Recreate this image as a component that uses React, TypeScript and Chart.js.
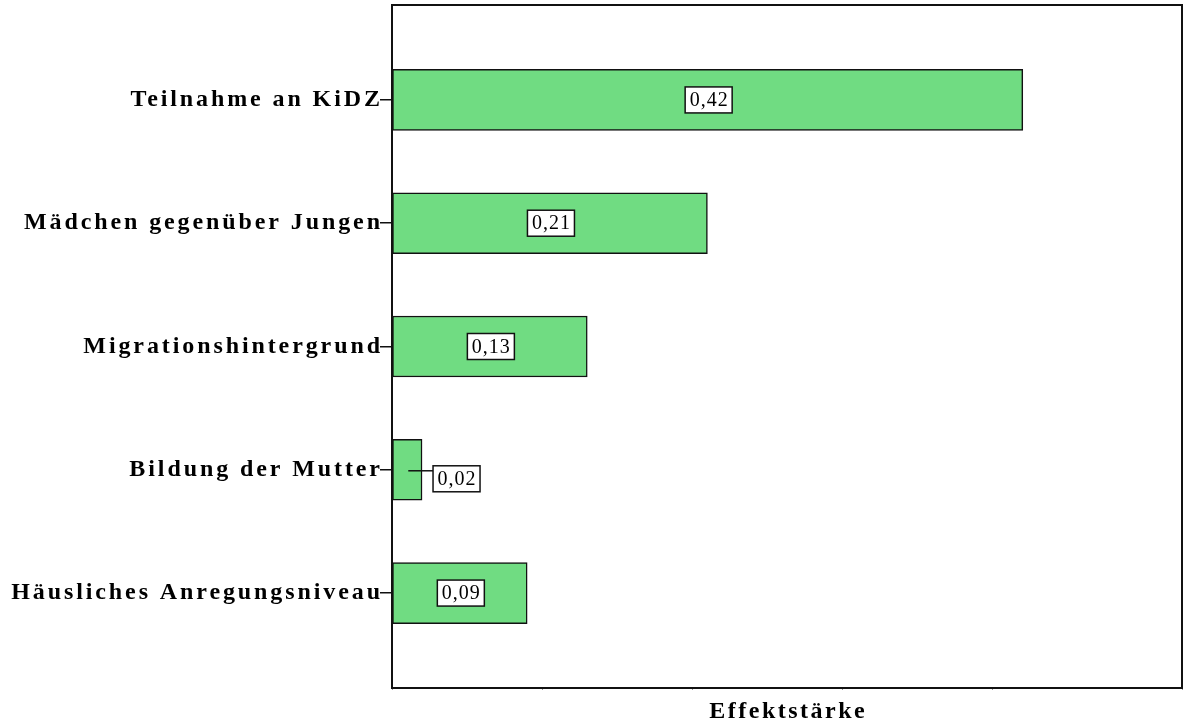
import React, { useEffect, useRef } from "react";
import { Chart, registerables } from "chart.js";

Chart.register(...registerables);

const categories = [
  "Teilnahme an KiDZ",
  "Mädchen gegenüber Jungen",
  "Migrationshintergrund",
  "Bildung der Mutter",
  "Häusliches Anregungsniveau",
];
const effectValues = [0.42, 0.21, 0.13, 0.02, 0.09];
const axisTitle = "Effektstärke";

const SERIF = '"Liberation Serif", "Times New Roman", serif';
const LABEL_SPACING = 2.9;

const framePlugin = {
  id: "frame",
  beforeDraw(chart: any) {
    (chart.ctx as any).letterSpacing = LABEL_SPACING + "px";
  },
  afterDraw(chart: any) {
    const ctx = chart.ctx;
    const ca = chart.chartArea;
    ctx.save();
    ctx.strokeStyle = "#111";
    ctx.lineWidth = 2;
    ctx.strokeRect(ca.left, ca.top, ca.right - ca.left, ca.bottom - ca.top);
    (ctx as any).letterSpacing = "2.5px";
    ctx.font = `bold 24px ${SERIF}`;
    ctx.fillStyle = "#000";
    ctx.textAlign = "center";
    ctx.textBaseline = "middle";
    ctx.fillText(axisTitle, (ca.left + ca.right) / 2 + 1.25, 712);
    const meta = chart.getDatasetMeta(0);
    (ctx as any).letterSpacing = "1px";
    ctx.font = `20px ${SERIF}`;
    meta.data.forEach((bar: any, i: number) => {
      const txt = effectValues[i].toFixed(2).replace(".", ",");
      const tw = ctx.measureText(txt).width;
      const bw = tw + 8;
      const bh = 26;
      const barW = bar.x - bar.base;
      let cx: number, cy: number;
      if (barW > bw + 10) {
        cx = (bar.x + bar.base) / 2 + 1;
        cy = bar.y;
      } else {
        cx = bar.x + 11 + bw / 2;
        cy = bar.y + 9;
        ctx.strokeStyle = "#111";
        ctx.lineWidth = 1.5;
        ctx.beginPath();
        ctx.moveTo((bar.x + bar.base) / 2 + 1, bar.y + 1);
        ctx.lineTo(bar.x + 11, bar.y + 1);
        ctx.stroke();
      }
      ctx.fillStyle = "#fff";
      ctx.fillRect(cx - bw / 2, cy - bh / 2, bw, bh);
      ctx.strokeStyle = "#111";
      ctx.lineWidth = 1.5;
      ctx.strokeRect(cx - bw / 2, cy - bh / 2, bw, bh);
      ctx.fillStyle = "#000";
      ctx.textAlign = "center";
      ctx.textBaseline = "middle";
      ctx.fillText(txt, cx + 0.5, cy + 1);
    });
    ctx.restore();
    (ctx as any).letterSpacing = "0px";
  },
};

export default function App() {
  const ref = useRef<HTMLCanvasElement | null>(null);
  useEffect(() => {
    if (!ref.current) return;
    const chart = new Chart(ref.current, {
      type: "bar",
      data: {
        datasets: [
          {
            data: effectValues.map((v, i) => ({ x: v, y: i })),
            backgroundColor: "#70DC82",
            borderColor: "#111",
            borderWidth: 1.5,
            borderSkipped: false,
            barThickness: 61,
          } as any,
        ],
      },
      options: {
        indexAxis: "y",
        animation: false,
        responsive: true,
        maintainAspectRatio: false,
        layout: { padding: { top: 5, right: 4, left: 0, bottom: 0 } },
        plugins: {
          legend: { display: false },
          tooltip: { enabled: false },
          title: { display: false },
        },
        scales: {
          x: {
            type: "linear",
            min: 0,
            max: 0.526,
            ticks: { display: false, stepSize: 0.1 },
            grid: {
              drawOnChartArea: false,
              drawTicks: true,
              tickLength: 2,
              color: "#999",
            },
            border: { display: true, color: "#111", width: 2 },
            afterFit(scale: any) {
              scale.height = 36;
              scale.paddingLeft = 0;
              scale.paddingRight = 0;
            },
          },
          y: {
            type: "linear",
            reverse: true,
            offset: false,
            min: -0.77,
            max: 4.77,
            afterBuildTicks(scale: any) {
              scale.ticks = categories.map((_, i) => ({ value: i }));
            },
            ticks: {
              autoSkip: false,
              padding: -LABEL_SPACING,
              color: "#000",
              font: { family: SERIF, size: 24, weight: "bold" },
              callback: (v: any) => categories[Number(v)] ?? "",
            },
            grid: {
              offset: false,
              drawOnChartArea: false,
              drawTicks: true,
              tickLength: 12,
              color: "#111",
              lineWidth: 1.5,
            },
            border: { display: true, color: "#111", width: 2 },
            afterFit(scale: any) {
              scale.width = 392;
              scale.paddingTop = 0;
              scale.paddingBottom = 0;
            },
          },
        },
      } as any,
      plugins: [framePlugin],
    });
    return () => chart.destroy();
  }, []);
  return (
    <div
      style={{
        position: "absolute",
        left: 0,
        top: 0,
        width: 1186,
        height: 724,
        background: "#fff",
      }}
    >
      <canvas ref={ref} />
    </div>
  );
}
